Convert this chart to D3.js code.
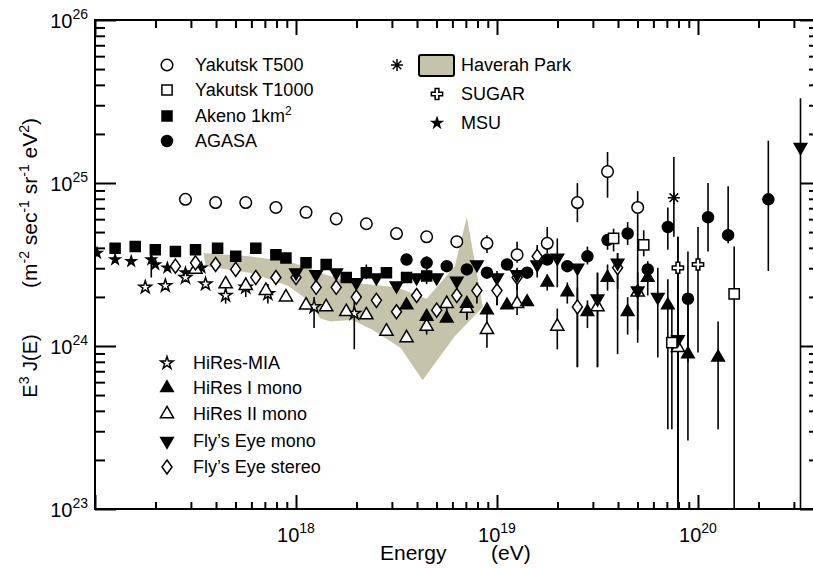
<!DOCTYPE html>
<html>
<head>
<meta charset="utf-8">
<script src="https://cdnjs.cloudflare.com/ajax/libs/d3/7.8.5/d3.min.js"></script>
<style>
  body { margin: 0; background: #fff; }
  svg { display: block; font-family: 'Liberation Sans', Arial, Helvetica, sans-serif; }
</style>
</head>
<body>
<svg id="chart" width="813" height="568"></svg>
<script>
// points are [log10 E/eV, log10 E^3 J, err low, err high] (errors optional)
const yakutskT500 = [
  [17.45, 24.90], [17.60, 24.88], [17.75, 24.88], [17.90, 24.85], [18.05, 24.82],
  [18.20, 24.78], [18.35, 24.75], [18.50, 24.69], [18.65, 24.67], [18.80, 24.64],
  [18.95, 24.63, 24.57, 24.68], [19.10, 24.56, 24.51, 24.64], [19.25, 24.63, 24.57, 24.73],
  [19.40, 24.88, 24.76, 25.00], [19.55, 25.07, 24.91, 25.19], [19.70, 24.85, 24.62, 24.95]
]
const yakutskT1000 = [
  [19.58, 24.66, 24.58, 24.72], [19.73, 24.62, 24.55, 24.71],
  [19.87, 24.02, 23.49, 24.24], [20.18, 24.32, 22.80, 24.61]
]
const akeno = [
  [17.10, 24.60], [17.20, 24.61], [17.30, 24.59], [17.40, 24.58], [17.50, 24.59],
  [17.61, 24.60], [17.70, 24.55], [17.80, 24.60], [17.90, 24.56], [17.95, 24.54],
  [18.05, 24.51], [18.15, 24.50], [18.25, 24.42], [18.35, 24.45, 24.41, 24.50],
  [18.45, 24.45], [18.55, 24.42], [18.65, 24.43, 24.38, 24.48]
]
const agasa = [
  [18.55, 24.53], [18.65, 24.51, 24.47, 24.55], [18.75, 24.49], [18.85, 24.47], [18.95, 24.45],
  [19.05, 24.50], [19.15, 24.45], [19.25, 24.53], [19.35, 24.49], [19.45, 24.55, 24.50, 24.61],
  [19.55, 24.65, 24.59, 24.68], [19.65, 24.69, 24.62, 24.76], [19.75, 24.47, 24.39, 24.52],
  [19.85, 24.73, 24.59, 24.85], [19.95, 24.29, 23.90, 24.58], [20.05, 24.79, 24.58, 25.00],
  [20.15, 24.68, 24.63, 24.98], [20.35, 24.90, 24.46, 25.26]
]
const hiresMia = [
  [17.25, 24.36], [17.35, 24.37], [17.45, 24.42], [17.55, 24.38],
  [17.65, 24.31, 24.26, 24.36], [17.75, 24.36, 24.30, 24.42], [17.86, 24.32, 24.26, 24.38],
  [18.09, 24.24, 24.11, 24.30], [18.29, 24.20, 23.98, 24.33]
]
const msu = [
  [17.01, 24.57], [17.10, 24.53], [17.18, 24.52], [17.28, 24.53, 24.42, 24.59],
  [17.30, 24.50], [17.36, 24.48], [17.45, 24.45], [17.53, 24.48]
]
const hiresI = [
  [18.55, 24.25], [18.65, 24.18], [18.75, 24.17], [18.85, 24.26, 24.16, 24.30],
  [18.95, 24.22], [19.05, 24.25], [19.15, 24.27], [19.25, 24.39, 24.34, 24.44],
  [19.35, 24.33, 24.26, 24.39], [19.45, 24.21, 24.11, 24.28], [19.55, 24.42, 24.34, 24.50],
  [19.65, 24.21, 24.07, 24.30], [19.75, 24.42, 24.31, 24.50], [19.85, 24.25, 23.49, 24.41],
  [19.95, 23.95, 23.42, 24.29], [20.10, 23.93, 23.49, 24.15]
]
const hiresII = [
  [17.50, 24.47], [17.65, 24.38], [17.75, 24.37], [17.85, 24.34], [17.95, 24.30],
  [18.05, 24.25], [18.15, 24.24], [18.25, 24.21], [18.35, 24.19], [18.45, 24.09],
  [18.55, 24.05], [18.65, 24.12, 24.07, 24.17], [18.75, 24.26, 24.20, 24.30],
  [18.85, 24.23, 24.17, 24.28], [18.95, 24.10, 23.99, 24.24], [19.10, 24.26, 24.19, 24.34],
  [19.30, 24.12, 23.98, 24.23], [19.50, 24.24, 23.87, 24.45], [19.70, 24.33, 24.02, 24.62],
  [19.90, 23.99, 23.00, 24.40]
]
const flysEyeMono = [
  [18.00, 24.45], [18.10, 24.44], [18.20, 24.45], [18.30, 24.39], [18.40, 24.42],
  [18.50, 24.37], [18.60, 24.42], [18.70, 24.42], [18.80, 24.40, 24.33, 24.42],
  [18.90, 24.50], [19.00, 24.42, 24.25, 24.46], [19.10, 24.44, 24.34, 24.48],
  [19.20, 24.50, 24.42, 24.56], [19.30, 24.54, 24.36, 24.66], [19.40, 24.48, 23.87, 24.50],
  [19.50, 24.29, 23.87, 24.45], [19.60, 24.51, 23.95, 24.57], [19.70, 24.34, 24.10, 24.45],
  [19.80, 24.30, 23.93, 24.48], [19.90, 24.04, 22.80, 24.67], [20.51, 25.22, 22.80, 25.52]
]
const flysEyeStereo = [
  [17.40, 24.49], [17.50, 24.51], [17.60, 24.50], [17.70, 24.47], [17.80, 24.42],
  [17.90, 24.42], [18.00, 24.42], [18.10, 24.36], [18.20, 24.36], [18.30, 24.30],
  [18.40, 24.28], [18.50, 24.21], [18.60, 24.31], [18.70, 24.22], [18.80, 24.31],
  [18.90, 24.34, 24.26, 24.39], [19.00, 24.34, 24.25, 24.39], [19.10, 24.42, 24.34, 24.47],
  [19.20, 24.55, 24.48, 24.62], [19.40, 24.24, 23.87, 24.36], [19.60, 24.48, 24.35, 24.57]
]
const sugar = [[19.90, 24.48, 22.80, 24.67], [20.00, 24.50, 23.96, 24.73]]
const haverahPoints = [[19.88, 24.91, 24.67, 25.16]]
// outline of the Haverah Park band
const haverahBand = [
  [17.54, 24.57], [17.77, 24.55], [17.96, 24.52], [18.06, 24.48], [18.12, 24.45],
  [18.27, 24.39], [18.50, 24.36], [18.65, 24.29], [18.79, 24.49], [18.85, 24.79],
  [18.93, 24.24], [18.79, 24.06], [18.63, 23.79], [18.52, 23.99], [18.38, 24.10],
  [18.28, 24.16], [18.17, 24.15], [18.12, 24.17], [18.06, 24.28], [17.96, 24.37],
  [17.77, 24.45], [17.55, 24.49]
]

const xTickExp = [18, 19, 20]
const yTickExp = [23, 24, 25, 26]

const svg = d3.select('#chart')
const plotLeft = 95
const plotRight = 819
const plotTop = 20
const plotBottom = 509

const x = d3.scaleLog().domain([1e17, 4e20]).range([plotLeft, plotRight])
const y = d3.scaleLog().domain([1e23, 1e26]).range([plotBottom, plotTop])

const minorTicks = (lo, hi) => {
  const out = []
  for (let e = lo; e < hi; e++) {
    for (let k = 2; k <= 9; k++) out.push(k * 10 ** e)
  }
  return out
}
const xMinor = minorTicks(17, 21).filter(v => v < 4e20)
const xMajor = [1e17, 1e18, 1e19, 1e20]
const yMinor = minorTicks(23, 26)
const yMajor = [1e23, 1e24, 1e25, 1e26]

svg.append('clipPath').attr('id', 'plot-clip')
  .append('rect')
  .attr('x', plotLeft).attr('y', plotTop)
  .attr('width', plotRight - plotLeft).attr('height', plotBottom - plotTop)

const plot = svg.append('g').attr('clip-path', 'url(#plot-clip)')

// Haverah Park band
plot.append('path')
  .datum(haverahBand)
  .attr('d', d3.line().x(d => x(10 ** d[0])).y(d => y(10 ** d[1])).curve(d3.curveLinearClosed))
  .attr('fill', '#c6c3ab')

const allSeries = [yakutskT500, yakutskT1000, akeno, agasa, hiresMia, msu, hiresI, hiresII,
  flysEyeMono, flysEyeStereo, sugar, haverahPoints]

allSeries.forEach(data => {
  plot.append('g').selectAll('line')
    .data(data.filter(d => d.length > 2))
    .join('line')
    .attr('x1', d => x(10 ** d[0]))
    .attr('x2', d => x(10 ** d[0]))
    .attr('y1', d => y(10 ** d[2]))
    .attr('y2', d => y(10 ** d[3]))
    .attr('stroke', '#000')
    .attr('stroke-width', 1.6)
})

const shapes = {
  circleOpen: { d: d3.symbol(d3.symbolCircle, 105)(), fill: '#fff' },
  squareOpen: { d: d3.symbol(d3.symbolSquare, 105)(), fill: '#fff' },
  squareFilled: { d: d3.symbol(d3.symbolSquare, 100)(), fill: '#000' },
  circleFilled: { d: d3.symbol(d3.symbolCircle, 95)(), fill: '#000' },
  starOpen: { d: d3.symbol(d3.symbolStar, 48)(), fill: '#fff' },
  starFilled: { d: d3.symbol(d3.symbolStar, 30)(), fill: '#000' },
  triUpFilled: { d: d3.symbol(d3.symbolTriangle, 68)(), fill: '#000' },
  triUpOpen: { d: d3.symbol(d3.symbolTriangle, 75)(), fill: '#fff' },
  triDownFilled: { d: d3.symbol(d3.symbolTriangle, 68)(), fill: '#000', rot: 180 },
  diamondOpen: { d: 'M0,-7L5,0L0,7L-5,0Z', fill: '#fff' },
  crossOpen: { d: d3.symbol(d3.symbolCross, 70)(), fill: '#fff' },
  asterisk: { d: 'M0,-6V6M-6,0H6M-4.3,-4.3L4.3,4.3M-4.3,4.3L4.3,-4.3', fill: 'none' }
}

const markAt = (g, key, px, py) => {
  const s = shapes[key]
  return g.append('path')
    .attr('d', s.d)
    .attr('transform', `translate(${px},${py})` + (s.rot ? ` rotate(${s.rot})` : ''))
    .attr('fill', s.fill)
    .attr('stroke', '#000')
    .attr('stroke-width', 1.5)
}

const drawMarks = (data, key) => {
  const g = plot.append('g')
  data.forEach(d => markAt(g, key, x(10 ** d[0]), y(10 ** d[1])))
}

drawMarks(yakutskT500, 'circleOpen')
drawMarks(akeno, 'squareFilled')
drawMarks(msu, 'starFilled')
drawMarks(hiresMia, 'starOpen')
drawMarks(hiresII, 'triUpOpen')
drawMarks(flysEyeStereo, 'diamondOpen')
drawMarks(flysEyeMono, 'triDownFilled')
drawMarks(hiresI, 'triUpFilled')
drawMarks(agasa, 'circleFilled')
drawMarks(yakutskT1000, 'squareOpen')
drawMarks(sugar, 'crossOpen')
drawMarks(haverahPoints, 'asterisk')

// frame
svg.append('rect')
  .attr('x', plotLeft).attr('y', plotTop)
  .attr('width', plotRight - plotLeft).attr('height', plotBottom - plotTop)
  .attr('fill', 'none').attr('stroke', '#000').attr('stroke-width', 2)

// inward ticks on all four sides
const tickGroup = (axis, tx, ty) => {
  svg.append('g')
    .attr('transform', `translate(${tx},${ty})`)
    .call(axis.tickFormat('').tickSizeOuter(0))
    .call(g => g.select('.domain').remove())
    .call(g => g.selectAll('line').attr('stroke', '#000').attr('stroke-width', 2))
}
tickGroup(d3.axisBottom(x).tickValues(xMinor).tickSizeInner(-7), 0, plotBottom)
tickGroup(d3.axisBottom(x).tickValues(xMajor).tickSizeInner(-14), 0, plotBottom)
tickGroup(d3.axisTop(x).tickValues(xMinor).tickSizeInner(-8), 0, plotTop)
tickGroup(d3.axisTop(x).tickValues(xMajor).tickSizeInner(-15), 0, plotTop)
tickGroup(d3.axisLeft(y).tickValues(yMinor).tickSizeInner(-10), plotLeft, 0)
tickGroup(d3.axisLeft(y).tickValues(yMajor).tickSizeInner(-21), plotLeft, 0)
tickGroup(d3.axisRight(y).tickValues(yMinor).tickSizeInner(-10), plotRight, 0)
tickGroup(d3.axisRight(y).tickValues(yMajor).tickSizeInner(-19), plotRight, 0)

const powerLabel = (sel, exp) => {
  sel.append('tspan').text('10')
  sel.append('tspan').attr('dy', -9).attr('font-size', 14).text(exp)
}

svg.append('g').selectAll('text')
  .data(xTickExp)
  .join('text')
  .attr('x', d => x(10 ** d))
  .attr('y', 542)
  .attr('text-anchor', 'middle')
  .attr('font-size', 20)
  .each(function (d) { powerLabel(d3.select(this), d) })

svg.append('g').selectAll('text')
  .data(yTickExp)
  .join('text')
  .attr('x', 88)
  .attr('y', d => y(10 ** d) + 8)
  .attr('text-anchor', 'end')
  .attr('font-size', 20)
  .each(function (d) { powerLabel(d3.select(this), d) })

// axis titles
svg.append('text').attr('x', 380).attr('y', 560).attr('font-size', 21).text('Energy')
svg.append('text').attr('x', 491).attr('y', 560).attr('font-size', 21).text('(eV)')

// text pieces: plain strings, or { hi } raised pieces
const supText = (sel, parts) => {
  let raised = false
  parts.forEach(p => {
    const span = sel.append('tspan')
    if (typeof p === 'object') {
      span.attr('dy', -8).attr('font-size', 14).text(p.hi)
      raised = true
    } else {
      if (raised) span.attr('dy', 8)
      raised = false
      span.text(p)
    }
  })
}

const yTitle1 = svg.append('text')
  .attr('transform', 'translate(37,366) rotate(-90)')
  .attr('text-anchor', 'middle')
  .attr('font-size', 20)
supText(yTitle1, ['E', { hi: '3' }, ' J(E)'])

const yTitle2 = svg.append('text')
  .attr('transform', 'translate(37,203) rotate(-90)')
  .attr('text-anchor', 'middle')
  .attr('font-size', 21)
supText(yTitle2, ['(m', { hi: '-2' }, ' sec', { hi: '-1' }, ' sr', { hi: '-1' }, ' eV', { hi: '2' }, ')'])

// legends
const legendEntries = [
  { mark: 'circleOpen', label: 'Yakutsk T500', mx: 167, tx: 195, cy: 65 },
  { mark: 'squareOpen', label: 'Yakutsk T1000', mx: 167, tx: 195, cy: 90 },
  { mark: 'squareFilled', label: 'Akeno 1km', hi: '2', mx: 167, tx: 195, cy: 116 },
  { mark: 'circleFilled', label: 'AGASA', mx: 167, tx: 195, cy: 141 },
  { mark: 'asterisk', label: 'Haverah Park', mx: 397, tx: 461, cy: 65, box: true },
  { mark: 'crossOpen', label: 'SUGAR', mx: 437, tx: 461, cy: 94 },
  { mark: 'starFilled', label: 'MSU', mx: 437, tx: 461, cy: 123 },
  { mark: 'starOpen', label: 'HiRes-MIA', mx: 167, tx: 193, cy: 363 },
  { mark: 'triUpFilled', label: 'HiRes I mono', mx: 167, tx: 193, cy: 388 },
  { mark: 'triUpOpen', label: 'HiRes II mono', mx: 167, tx: 193, cy: 414 },
  { mark: 'triDownFilled', label: 'Fly\u2019s Eye mono', mx: 167, tx: 193, cy: 441 },
  { mark: 'diamondOpen', label: 'Fly\u2019s Eye stereo', mx: 167, tx: 193, cy: 467 }
]

const legend = svg.append('g')
legendEntries.forEach(e => {
  markAt(legend, e.mark, e.mx, e.cy)
  if (e.box) {
    legend.append('rect')
      .attr('x', 419).attr('y', e.cy - 10)
      .attr('width', 35).attr('height', 21)
      .attr('rx', 2)
      .attr('fill', '#c6c3ab').attr('stroke', '#000').attr('stroke-width', 2)
  }
  const t = legend.append('text')
    .attr('x', e.tx).attr('y', e.cy + 6)
    .attr('font-size', 18)
  t.append('tspan').text(e.label)
  if (e.hi) t.append('tspan').attr('dy', -7).attr('font-size', 12).text(e.hi)
})
</script>
</body>
</html>
